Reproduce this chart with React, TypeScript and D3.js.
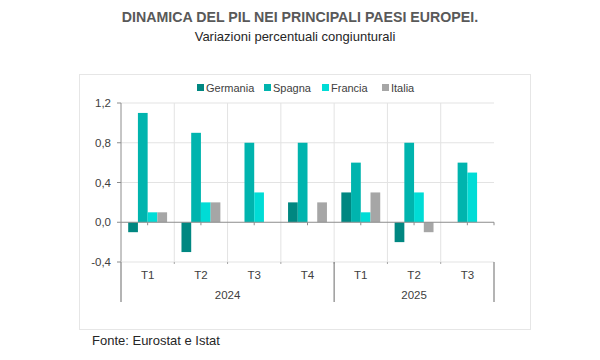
import React from "react";
import * as d3 from "d3";

const quarters = ["T1", "T2", "T3", "T4", "T1", "T2", "T3"];
const years = ["2024", "2024", "2024", "2024", "2025", "2025", "2025"];
const seriesNames = ["Germania", "Spagna", "Francia", "Italia"];
const germania = [-0.1, -0.3, 0, 0.2, 0.3, -0.2, 0];
const spagna = [1.1, 0.9, 0.8, 0.8, 0.6, 0.8, 0.6];
const francia = [0.1, 0.2, 0.3, 0, 0.1, 0.3, 0.5];
const italia = [0.1, 0.2, 0, 0.2, 0.3, -0.1, null];
const yTicks = [-0.4, 0, 0.4, 0.8, 1.2];
const colors = ["#008781", "#00B4AE", "#00DCD6", "#A6A6A6"];

const W = 600, H = 360;
const FONT = "'Liberation Sans', Arial, sans-serif";

export default function App() {
  const keys = quarters.map((q, i) => `${years[i]}-${q}`);
  const values = [germania, spagna, francia, italia];
  const x0 = d3.scaleBand().domain(keys).range([121, 494]).padding(0);
  const x1 = d3.scaleBand().domain(seriesNames).range([0, x0.bandwidth()]).paddingInner(0).paddingOuter(0.74);
  const y = d3.scaleLinear().domain([-0.4, 1.2]).range([262, 103]);
  const fmt = (v: number) => d3.format(".1f")(v).replace(".", ",").replace("−", "-");

  const yearGroups: { year: string; start: number; end: number }[] = [];
  years.forEach((yr, i) => {
    const last = yearGroups[yearGroups.length - 1];
    if (last && last.year === yr) last.end = i;
    else yearGroups.push({ year: yr, start: i, end: i });
  });

  const legendX = [197, 264, 322, 382];

  return (
    <svg width={W} height={H} style={{ position: "absolute", left: 0, top: 0, background: "#fff" }} fontFamily={FONT}>
      <rect x={0} y={0} width={W} height={H} fill="#fff" />
      <text x={300} y={22} textAnchor="middle" fontSize={14.2} fontWeight="bold" fill="#595959">DINAMICA DEL PIL NEI PRINCIPALI PAESI EUROPEI.</text>
      <text x={295} y={41} textAnchor="middle" fontSize={13} fill="#262626">Variazioni percentuali congiunturali</text>
      <rect x={79.5} y={74.5} width={451} height={255} fill="#fff" stroke="#E6E6E6" />

      {seriesNames.map((s, i) => (
        <g key={s}>
          <rect x={legendX[i]} y={84} width={7} height={7} fill={colors[i]} />
          <text x={legendX[i] + 9} y={91.5} fontSize={11} fill="#404040">{s}</text>
        </g>
      ))}

      {yTicks.filter(t => t > 0).map(t => (
        <line key={t} x1={121} x2={494} y1={y(t)} y2={y(t)} stroke="#E3E3E3" />
      ))}
      {keys.slice(1).map(k => (
        <line key={k} x1={x0(k)} x2={x0(k)} y1={y(1.2)} y2={y(-0.4)} stroke="#E3E3E3" />
      ))}

      {keys.map((k, ci) => values.map((vals, si) => {
        const v = vals[ci];
        if (v === null || v === 0) return null;
        const bx = (x0(k) as number) + (x1(seriesNames[si]) as number);
        return <rect key={k + si} x={bx} width={x1.bandwidth()} y={y(Math.max(0, v))} height={Math.abs(y(v) - y(0))} fill={colors[si]} />;
      }))}

      <line x1={121} x2={494} y1={y(0)} y2={y(0)} stroke="#8C8C8C" />
      {keys.map(k => {
        const cx = (x0(k) as number) + x0.bandwidth() / 2;
        return <line key={k} x1={cx} x2={cx} y1={y(0)} y2={y(0) + 3} stroke="#8C8C8C" />;
      })}
      <line x1={494} x2={494} y1={y(0)} y2={y(0) + 3} stroke="#8C8C8C" />

      <line x1={121} x2={121} y1={y(1.2)} y2={y(-0.4)} stroke="#8C8C8C" />
      {yTicks.map(t => (
        <g key={t}>
          <line x1={117} x2={121} y1={y(t)} y2={y(t)} stroke="#8C8C8C" />
          <text x={111} y={y(t) + 4} textAnchor="end" fontSize={11.5} fill="#404040">{fmt(t)}</text>
        </g>
      ))}
      <line x1={121} x2={494} y1={y(-0.4)} y2={y(-0.4)} stroke="#E3E3E3" />
      {keys.slice(1).map(k => (
        <line key={k} x1={x0(k)} x2={x0(k)} y1={y(-0.4)} y2={y(-0.4) + 2} stroke="#A6A6A6" />
      ))}

      {keys.map((k, i) => (
        <text key={k} x={(x0(k) as number) + x0.bandwidth() / 2} y={279} textAnchor="middle" fontSize={11.5} fill="#404040">{quarters[i]}</text>
      ))}
      {yearGroups.map(g => {
        const xs = x0(keys[g.start]) as number;
        const xe = (x0(keys[g.end]) as number) + x0.bandwidth();
        return <text key={g.year} x={(xs + xe) / 2} y={299} textAnchor="middle" fontSize={11.5} fill="#404040">{g.year}</text>;
      })}
      {[0, ...yearGroups.map(g => g.end + 1)].map(i => {
        const xx = i < keys.length ? (x0(keys[i]) as number) : 494;
        return <line key={i} x1={xx} x2={xx} y1={y(-0.4)} y2={302} stroke="#8C8C8C" strokeWidth={1.3} />;
      })}

      <text x={92} y={345} fontSize={13} fill="#262626">Fonte: Eurostat e Istat</text>
    </svg>
  );
}
